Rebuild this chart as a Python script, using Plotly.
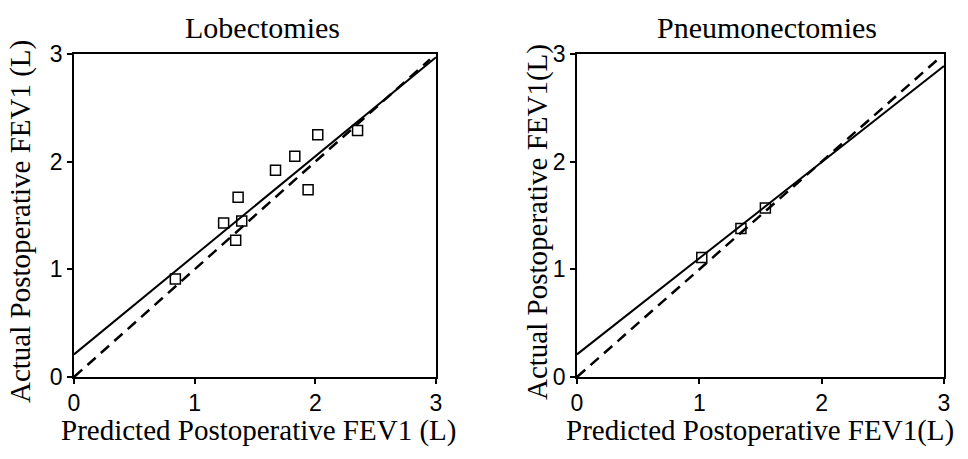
import plotly.graph_objects as go

# ---- data ----
lob_predicted = [0.84, 1.24, 1.36, 1.34, 1.39, 1.67, 1.83, 1.94, 2.02, 2.35]
lob_actual = [0.91, 1.43, 1.67, 1.27, 1.45, 1.92, 2.05, 1.74, 2.25, 2.29]
pneu_predicted = [1.02, 1.34, 1.54]
pneu_actual = [1.11, 1.38, 1.57]

lob_fit_intercept, lob_fit_slope = 0.21, 0.92
pneu_fit_intercept, pneu_fit_slope = 0.21, 0.893
line_x = [0, 3]
identity_x = [0, 2.95]

tick_vals = [0, 1, 2, 3]
tick_text = ["0", "1", "2", "3"]

titles = ["Lobectomies", "Pneumonectomies"]
x_titles = ["Predicted Postoperative FEV1 (L)", "Predicted Postoperative FEV1(L)"]
y_titles = ["Actual Postoperative FEV1 (L)", "Actual Postoperative FEV1(L)"]

W, H = 968, 459
OFF = 0  # body margin removed via post_script below
SERIF = "Liberation Serif, Times New Roman, serif"
SANS = "Liberation Sans Narrow, Arial Narrow, Liberation Sans, sans-serif"

fig = go.Figure()

panels = [
    (lob_predicted, lob_actual, lob_fit_intercept, lob_fit_slope, "x", "y"),
    (pneu_predicted, pneu_actual, pneu_fit_intercept, pneu_fit_slope, "x2", "y2"),
]
for px_, py_, b, m, xa, ya in panels:
    fig.add_trace(go.Scatter(x=identity_x, y=identity_x, mode="lines",
                             line=dict(color="black", width=2.5, dash="11px,7px"),
                             xaxis=xa, yaxis=ya, showlegend=False, hoverinfo="skip"))
    fig.add_trace(go.Scatter(x=line_x, y=[b + m * v for v in line_x], mode="lines",
                             line=dict(color="black", width=2),
                             xaxis=xa, yaxis=ya, showlegend=False, hoverinfo="skip"))
    fig.add_trace(go.Scatter(x=px_, y=py_, mode="markers",
                             marker=dict(symbol="square-open", size=10, color="black",
                                         line=dict(width=1.5, color="black")),
                             xaxis=xa, yaxis=ya, showlegend=False))

def px2x(p):
    return (p - OFF) / W

def px2y(p):
    return 1 - (p - OFF) / H

y_dom = [px2y(377), px2y(54)]
axis_common = dict(range=[0, 3], tickvals=tick_vals, ticktext=tick_text,
                   showgrid=False, zeroline=False, showline=True, linecolor="black",
                   linewidth=1.5, mirror=True, ticks="outside", ticklen=5,
                   tickcolor="black", tickwidth=1.5, automargin=False,
                   tickfont=dict(family=SANS, size=23, color="black"))

fig.update_layout(
    template="none",
    width=W, height=H, margin=dict(l=0, r=0, t=0, b=0, pad=0),
    paper_bgcolor="white", plot_bgcolor="white",
    xaxis=dict(domain=[px2x(74), px2x(436)], anchor="y", **axis_common),
    yaxis=dict(domain=y_dom, anchor="x", **axis_common),
    xaxis2=dict(domain=[px2x(577), px2x(944)], anchor="y2", **axis_common),
    yaxis2=dict(domain=y_dom, anchor="x2", **axis_common),
)

annotations = []
for i, (cx, tcx, ycx) in enumerate([(262, 258, 20), (767, 760, 537)]):
    annotations.append(dict(text=titles[i], x=px2x(cx), y=px2y(27), xref="paper", yref="paper",
                            showarrow=False, xanchor="center", yanchor="middle",
                            font=dict(family=SERIF, size=30, color="black")))
    annotations.append(dict(text=x_titles[i], x=px2x(tcx), y=px2y(430), xref="paper", yref="paper",
                            showarrow=False, xanchor="center", yanchor="middle",
                            font=dict(family=SERIF, size=29, color="black")))
    annotations.append(dict(text=y_titles[i], x=px2x(ycx), y=px2y(222), xref="paper", yref="paper",
                            showarrow=False, xanchor="center", yanchor="middle", textangle=-90,
                            font=dict(family=SERIF, size=29, color="black")))
fig.update_layout(annotations=annotations)

fig.write_html("out.html", config={"displayModeBar": False},
               post_script="document.body.style.margin='0';")
